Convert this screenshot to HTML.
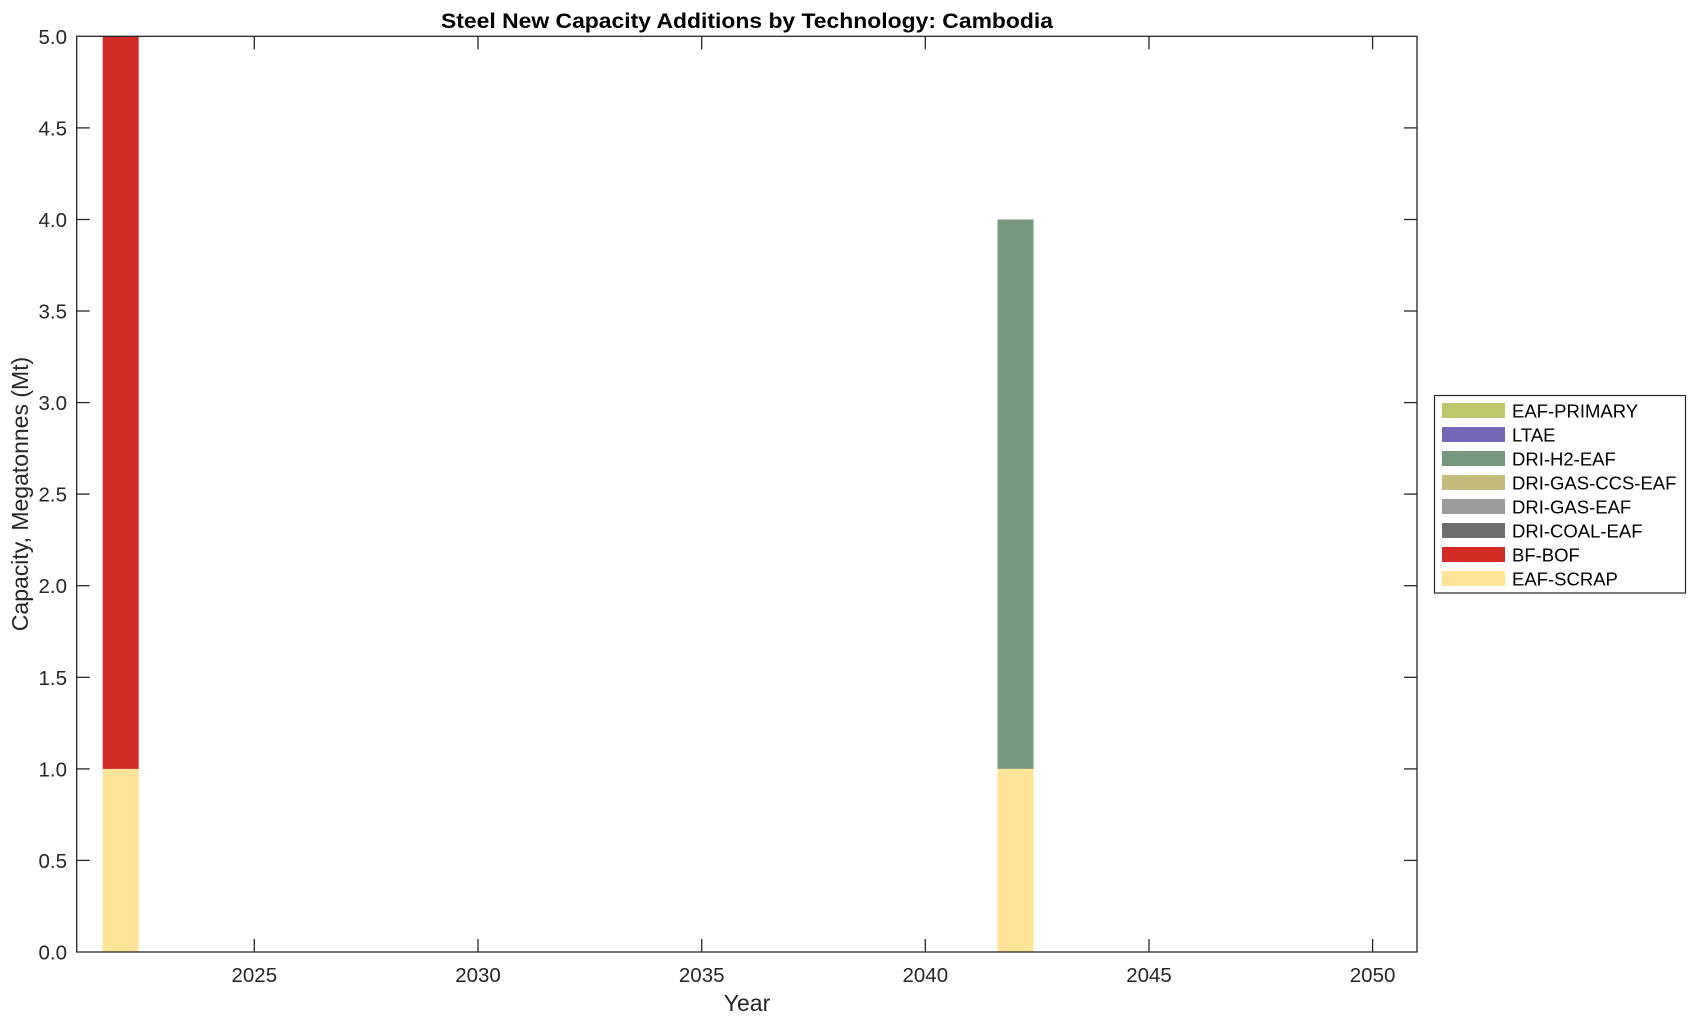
<!DOCTYPE html>
<html><head><meta charset="utf-8"><style>
html,body{margin:0;padding:0;background:#fff;}
svg{display:block;font-family:"Liberation Sans",Arial,sans-serif;}
</style></head><body>
<svg width="1696" height="1021" viewBox="0 0 1696 1021" xmlns="http://www.w3.org/2000/svg">
<rect width="1696" height="1021" fill="#fff"/>
<rect x="102.7" y="768.9" width="36" height="183.1" fill="#ffe396"/>
<rect x="102.7" y="36.3" width="36" height="732.6" fill="#d22b25"/>
<rect x="997.5" y="768.9" width="36" height="183.1" fill="#ffe396"/>
<rect x="997.5" y="219.5" width="36" height="549.4" fill="#76987d"/>
<rect x="76.7" y="36.3" width="1340.3" height="915.7" fill="none" stroke="#262626" stroke-width="1.3"/>
<g stroke="#262626" stroke-width="1.3">
<line x1="254.3" y1="952" x2="254.3" y2="939"/><line x1="254.3" y1="36.3" x2="254.3" y2="49.3"/>
<line x1="478" y1="952" x2="478" y2="939"/><line x1="478" y1="36.3" x2="478" y2="49.3"/>
<line x1="701.7" y1="952" x2="701.7" y2="939"/><line x1="701.7" y1="36.3" x2="701.7" y2="49.3"/>
<line x1="925.3" y1="952" x2="925.3" y2="939"/><line x1="925.3" y1="36.3" x2="925.3" y2="49.3"/>
<line x1="1149" y1="952" x2="1149" y2="939"/><line x1="1149" y1="36.3" x2="1149" y2="49.3"/>
<line x1="1372.6" y1="952" x2="1372.6" y2="939"/><line x1="1372.6" y1="36.3" x2="1372.6" y2="49.3"/>
<line x1="76.7" y1="860.4" x2="89.7" y2="860.4"/><line x1="1417" y1="860.4" x2="1404" y2="860.4"/>
<line x1="76.7" y1="768.9" x2="89.7" y2="768.9"/><line x1="1417" y1="768.9" x2="1404" y2="768.9"/>
<line x1="76.7" y1="677.3" x2="89.7" y2="677.3"/><line x1="1417" y1="677.3" x2="1404" y2="677.3"/>
<line x1="76.7" y1="585.7" x2="89.7" y2="585.7"/><line x1="1417" y1="585.7" x2="1404" y2="585.7"/>
<line x1="76.7" y1="494.1" x2="89.7" y2="494.1"/><line x1="1417" y1="494.1" x2="1404" y2="494.1"/>
<line x1="76.7" y1="402.6" x2="89.7" y2="402.6"/><line x1="1417" y1="402.6" x2="1404" y2="402.6"/>
<line x1="76.7" y1="311" x2="89.7" y2="311"/><line x1="1417" y1="311" x2="1404" y2="311"/>
<line x1="76.7" y1="219.5" x2="89.7" y2="219.5"/><line x1="1417" y1="219.5" x2="1404" y2="219.5"/>
<line x1="76.7" y1="127.9" x2="89.7" y2="127.9"/><line x1="1417" y1="127.9" x2="1404" y2="127.9"/>
</g>
<g font-size="20.5" fill="#262626" text-anchor="middle">
<text x="254.3" y="982">2025</text><text x="478" y="982">2030</text><text x="701.7" y="982">2035</text>
<text x="925.3" y="982">2040</text><text x="1149" y="982">2045</text><text x="1372.6" y="982">2050</text>
<text x="747" y="1011" font-size="23">Year</text>
</g>
<g font-size="20.5" fill="#262626" text-anchor="end">
<text x="67" y="959.5">0.0</text><text x="67" y="867.9">0.5</text><text x="67" y="776.4">1.0</text>
<text x="67" y="684.8">1.5</text><text x="67" y="593.2">2.0</text><text x="67" y="501.6">2.5</text>
<text x="67" y="410.1">3.0</text><text x="67" y="318.5">3.5</text><text x="67" y="227">4.0</text>
<text x="67" y="135.4">4.5</text><text x="67" y="43.8">5.0</text>
</g>
<text transform="translate(28,494) rotate(-90)" font-size="23" fill="#262626" text-anchor="middle">Capacity, Megatonnes (Mt)</text>
<text x="747" y="28" font-size="21" font-weight="bold" fill="#000" text-anchor="middle" textLength="612" lengthAdjust="spacingAndGlyphs">Steel New Capacity Additions by Technology: Cambodia</text>
<rect x="1434.5" y="395.5" width="251" height="197.5" fill="#fff" stroke="#262626" stroke-width="1.2"/>
<g>
<rect x="1442" y="403" width="63" height="15" fill="#bdc66b"/>
<rect x="1442" y="427" width="63" height="15" fill="#7367b6"/>
<rect x="1442" y="451" width="63" height="15" fill="#76987d"/>
<rect x="1442" y="475" width="63" height="15" fill="#c4bb7e"/>
<rect x="1442" y="499" width="63" height="15" fill="#9c9c9c"/>
<rect x="1442" y="523" width="63" height="15" fill="#6d6d6d"/>
<rect x="1442" y="547" width="63" height="15" fill="#d22b25"/>
<rect x="1442" y="571" width="63" height="15" fill="#ffe396"/>
</g>
<g font-size="18.5" fill="#000">
<text x="1512" y="417.5">EAF-PRIMARY</text>
<text x="1512" y="441.5">LTAE</text>
<text x="1512" y="465.5">DRI-H2-EAF</text>
<text x="1512" y="489.5">DRI-GAS-CCS-EAF</text>
<text x="1512" y="513.5">DRI-GAS-EAF</text>
<text x="1512" y="537.5">DRI-COAL-EAF</text>
<text x="1512" y="561.5">BF-BOF</text>
<text x="1512" y="585.5">EAF-SCRAP</text>
</g>
</svg>
</body></html>
